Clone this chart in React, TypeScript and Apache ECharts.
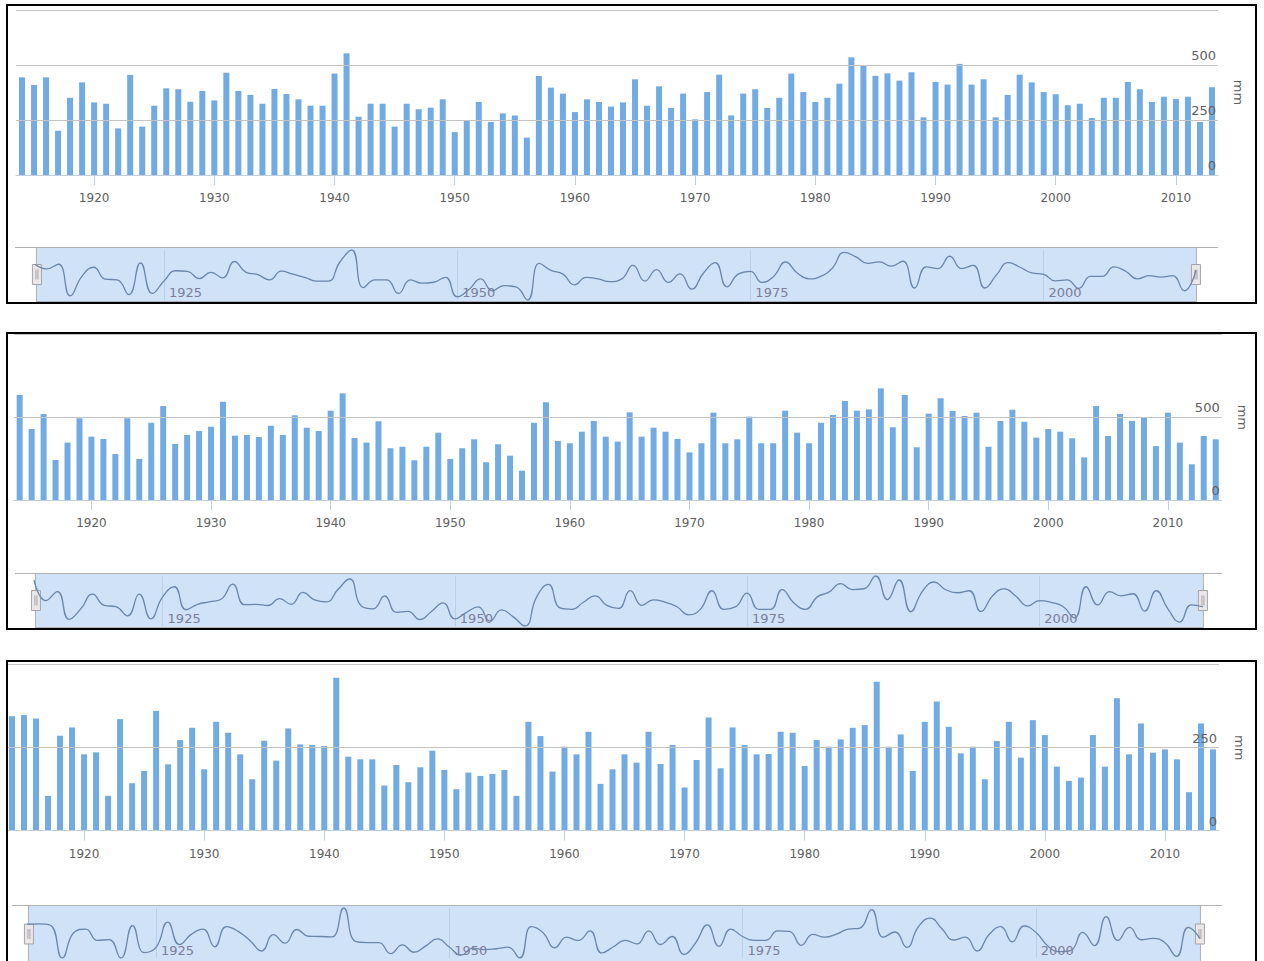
import React, { useEffect, useRef } from 'react';
import * as echarts from 'echarts';

// ---------- data ----------
const YEARS = [
  '1914', '1915', '1916', '1917', '1918', '1919', '1920', '1921', '1922', '1923',
  '1924', '1925', '1926', '1927', '1928', '1929', '1930', '1931', '1932', '1933',
  '1934', '1935', '1936', '1937', '1938', '1939', '1940', '1941', '1942', '1943',
  '1944', '1945', '1946', '1947', '1948', '1949', '1950', '1951', '1952', '1953',
  '1954', '1955', '1956', '1957', '1958', '1959', '1960', '1961', '1962', '1963',
  '1964', '1965', '1966', '1967', '1968', '1969', '1970', '1971', '1972', '1973',
  '1974', '1975', '1976', '1977', '1978', '1979', '1980', '1981', '1982', '1983',
  '1984', '1985', '1986', '1987', '1988', '1989', '1990', '1991', '1992', '1993',
  '1994', '1995', '1996', '1997', '1998', '1999', '2000', '2001', '2002', '2003',
  '2004', '2005', '2006', '2007', '2008', '2009', '2010', '2011', '2012', '2013',
  '2014',
];

// panel 1: 1914-2013
const RAIN_A = [
  444, 409, 444, 201, 351, 421, 330, 324, 212, 455,
  220, 315, 394, 390, 333, 382, 339, 465, 382, 364,
  324, 391, 368, 344, 315, 315, 461, 553, 265, 324,
  324, 220, 324, 299, 306, 344, 195, 250, 332, 241,
  280, 271, 170, 450, 397, 370, 286, 344, 332, 311,
  330, 435, 315, 403, 305, 370, 253, 377, 456, 271,
  370, 390, 305, 351, 461, 377, 332, 351, 415, 535,
  500, 451, 462, 429, 467, 262, 423, 411, 505, 411,
  435, 262, 364, 456, 421, 377, 367, 317, 324, 259,
  351, 351, 423, 390, 332, 356, 345, 356, 241, 399,
];

// panel 2: 1914-2014
const RAIN_B = [
  635, 429, 520, 242, 347, 494, 383, 369, 278, 494,
  248, 467, 568, 339, 393, 417, 443, 594, 389, 393,
  381, 449, 393, 512, 437, 417, 540, 645, 375, 347,
  476, 313, 322, 240, 322, 407, 248, 313, 367, 228,
  337, 268, 177, 467, 591, 357, 343, 413, 478, 383,
  353, 530, 383, 437, 413, 369, 288, 343, 528, 343,
  367, 504, 343, 343, 540, 407, 343, 467, 514, 599,
  540, 548, 675, 440, 635, 319, 522, 615, 538, 508,
  528, 322, 478, 546, 473, 377, 429, 413, 373, 258,
  568, 387, 520, 478, 498, 326, 528, 347, 216, 387,
  367,
];

// panel 3: 1914-2014
const RAIN_C = [
  345, 348, 338, 105, 286, 311, 230, 236, 105, 336,
  143, 180, 361, 200, 273, 310, 185, 328, 295, 230,
  155, 271, 211, 308, 260, 258, 255, 461, 223, 215,
  215, 136, 198, 146, 191, 241, 183, 125, 175, 165,
  171, 183, 105, 328, 285, 178, 253, 230, 298, 141,
  185, 230, 205, 298, 201, 258, 130, 213, 341, 188,
  311, 258, 230, 231, 298, 295, 195, 273, 253, 275,
  310, 318, 449, 253, 290, 180, 328, 389, 313, 233,
  253, 155, 270, 328, 220, 333, 288, 193, 150, 160,
  288, 193, 399, 230, 323, 235, 245, 215, 116, 323,
  245,
];

const TICKS_A = [0, 250, 500, 750];
const TICKS_B = [0, 500, 1000];
const TICKS_C = [0, 250, 500];

const DECADE_LABELS = ['1920', '1930', '1940', '1950', '1960', '1970', '1980', '1990', '2000', '2010'];
const NAV_LABELS = ['1925', '1950', '1975', '2000'];
const UNIT = 'mm';

// ---------- layout (page pixels) ----------
const LAYOUT = [
  {
    years: YEARS.slice(0, 100), values: RAIN_A, ticks: TICKS_A,
    bar: { left: 16, top: 10, width: 1202, height: 165 },
    nav: { left: 35, top: 250, width: 1161, height: 50 },
    slider: { left: 35, top: 247, width: 1161, height: 55 },
    outline: { x1: 15, x2: 1218, y: 247.5 },
  },
  {
    years: YEARS, values: RAIN_B, ticks: TICKS_B,
    bar: { left: 13.7, top: 334.6, width: 1208, height: 165.4 },
    nav: { left: 34, top: 576, width: 1169, height: 50 },
    slider: { left: 34, top: 573, width: 1169, height: 55 },
    outline: { x1: 15, x2: 1222, y: 573.5 },
  },
  {
    years: YEARS, values: RAIN_C, ticks: TICKS_C,
    bar: { left: 6, top: 664.7, width: 1213, height: 166 },
    nav: { left: 27, top: 908, width: 1173, height: 50 },
    slider: { left: 27, top: 905, width: 1173, height: 58 },
    outline: { x1: 12, x2: 1222, y: 905.5 },
  },
];

const BOXES = [
  { left: 6, top: 4, width: 1251, height: 300 },
  { left: 6, top: 332, width: 1251, height: 298 },
  { left: 6, top: 660, width: 1251, height: 320 },
];

const FONT = 'DejaVu Sans, Verdana, sans-serif';
const BAR_COLOR = '#72abe4';

function buildOption() {
  const grid: any[] = [];
  const xAxis: any[] = [];
  const yAxis: any[] = [];
  const series: any[] = [];
  const dataZoom: any[] = [];
  const graphic: any[] = [];

  LAYOUT.forEach((p, i) => {
    const bi = i * 2;
    const ni = i * 2 + 1;
    grid.push({ ...p.bar, containLabel: false });
    grid.push({ ...p.nav, containLabel: false });

    xAxis.push({
      type: 'category',
      gridIndex: bi,
      data: p.years,
      boundaryGap: true,
      axisLine: { show: true, lineStyle: { color: '#c0d0e0', width: 1 } },
      axisTick: {
        show: true,
        alignWithLabel: true,
        length: 10,
        interval: (_idx: number, val: string) => DECADE_LABELS.includes(val),
        lineStyle: { color: '#c0d0e0' },
      },
      axisLabel: {
        show: true,
        interval: (_idx: number, val: string) => DECADE_LABELS.includes(val),
        color: '#606060',
        fontSize: 12,
        fontFamily: FONT,
        margin: 17,
      },
      splitLine: { show: false },
      z: 5,
    });
    xAxis.push({
      type: 'category',
      gridIndex: ni,
      data: p.years,
      boundaryGap: false,
      axisLine: { show: false },
      axisTick: { show: false },
      axisLabel: {
        show: true,
        inside: true,
        interval: (_idx: number, val: string) => NAV_LABELS.includes(val),
        align: 'left',
        padding: [0, 0, 0, 5],
        margin: 1,
        color: '#7d7d9a',
        fontSize: 13,
        fontFamily: FONT,
      },
      splitLine: {
        show: true,
        interval: (_idx: number, val: string) => NAV_LABELS.includes(val),
        lineStyle: { color: 'rgba(130,150,185,0.25)', width: 1 },
      },
      z: 6,
    });

    const t = p.ticks;
    yAxis.push({
      type: 'value',
      gridIndex: bi,
      position: 'right',
      min: t[0],
      max: t[t.length - 1],
      interval: t[1] - t[0],
      name: UNIT,
      nameLocation: 'middle',
      nameRotate: -90,
      nameGap: 14,
      nameTextStyle: { color: '#606060', fontSize: 13, fontFamily: FONT },
      axisLine: { show: false },
      axisTick: { show: false },
      axisLabel: {
        inside: true,
        margin: 2,
        showMaxLabel: false,
        verticalAlign: 'bottom',
        padding: [0, 0, 3, 0],
        color: '#606060',
        fontSize: 13,
        fontFamily: FONT,
      },
      splitLine: { show: true, lineStyle: { color: '#c4c4c4', width: 1 } },
      z: 4,
    });
    yAxis.push({
      type: 'value',
      gridIndex: ni,
      min: 'dataMin',
      max: 'dataMax',
      show: false,
    });

    series.push({
      type: 'bar',
      xAxisIndex: bi,
      yAxisIndex: bi,
      data: p.values,
      barWidth: 6,
      itemStyle: { color: BAR_COLOR },
      silent: true,
    });
    series.push({
      type: 'line',
      xAxisIndex: ni,
      yAxisIndex: ni,
      data: p.values,
      smooth: 0.5,
      symbol: 'none',
      lineStyle: { color: '#6a86aa', width: 1.3 },
      silent: true,
      z: 5,
    });

    dataZoom.push({
      type: 'slider',
      xAxisIndex: bi,
      start: 0,
      end: 100,
      ...p.slider,
      backgroundColor: 'transparent',
      fillerColor: 'rgba(128,179,236,0.38)',
      borderColor: '#b2b1b6',
      borderRadius: 0,
      showDataShadow: false,
      showDetail: false,
      brushSelect: false,
      moveHandleSize: 0,
      handleIcon: 'path://M0,0H9V20H0Z M3.5,5V15 M5.5,5V15',
      handleSize: 20,
      handleStyle: { color: '#ebe7e8', borderColor: '#a5a4aa', borderWidth: 1 },
      z: 4,
    });

    graphic.push({
      type: 'line',
      shape: { x1: p.outline.x1, y1: p.outline.y, x2: p.outline.x2, y2: p.outline.y },
      style: { stroke: '#b2b1b6', lineWidth: 1 },
      z: 7,
      silent: true,
    });
  });

  return {
    animation: false,
    backgroundColor: '#ffffff',
    grid,
    xAxis,
    yAxis,
    series,
    dataZoom,
    graphic,
  };
}

export default function App() {
  const ref = useRef<HTMLDivElement | null>(null);

  useEffect(() => {
    if (!ref.current) return;
    const chart = echarts.init(ref.current, undefined, { renderer: 'svg' });
    chart.setOption(buildOption() as any);
    return () => chart.dispose();
  }, []);

  return (
    <div style={{ position: 'fixed', left: 0, top: 0, width: 1264, height: 961, background: '#fff', overflow: 'hidden' }}>
      <div ref={ref} style={{ position: 'absolute', left: 0, top: 0, width: 1264, height: 961 }} />
      {BOXES.map((b, i) => (
        <div
          key={i}
          style={{
            position: 'absolute',
            left: b.left,
            top: b.top,
            width: b.width,
            height: b.height,
            border: '2px solid #000',
            boxSizing: 'border-box',
            pointerEvents: 'none',
          }}
        />
      ))}
    </div>
  );
}
